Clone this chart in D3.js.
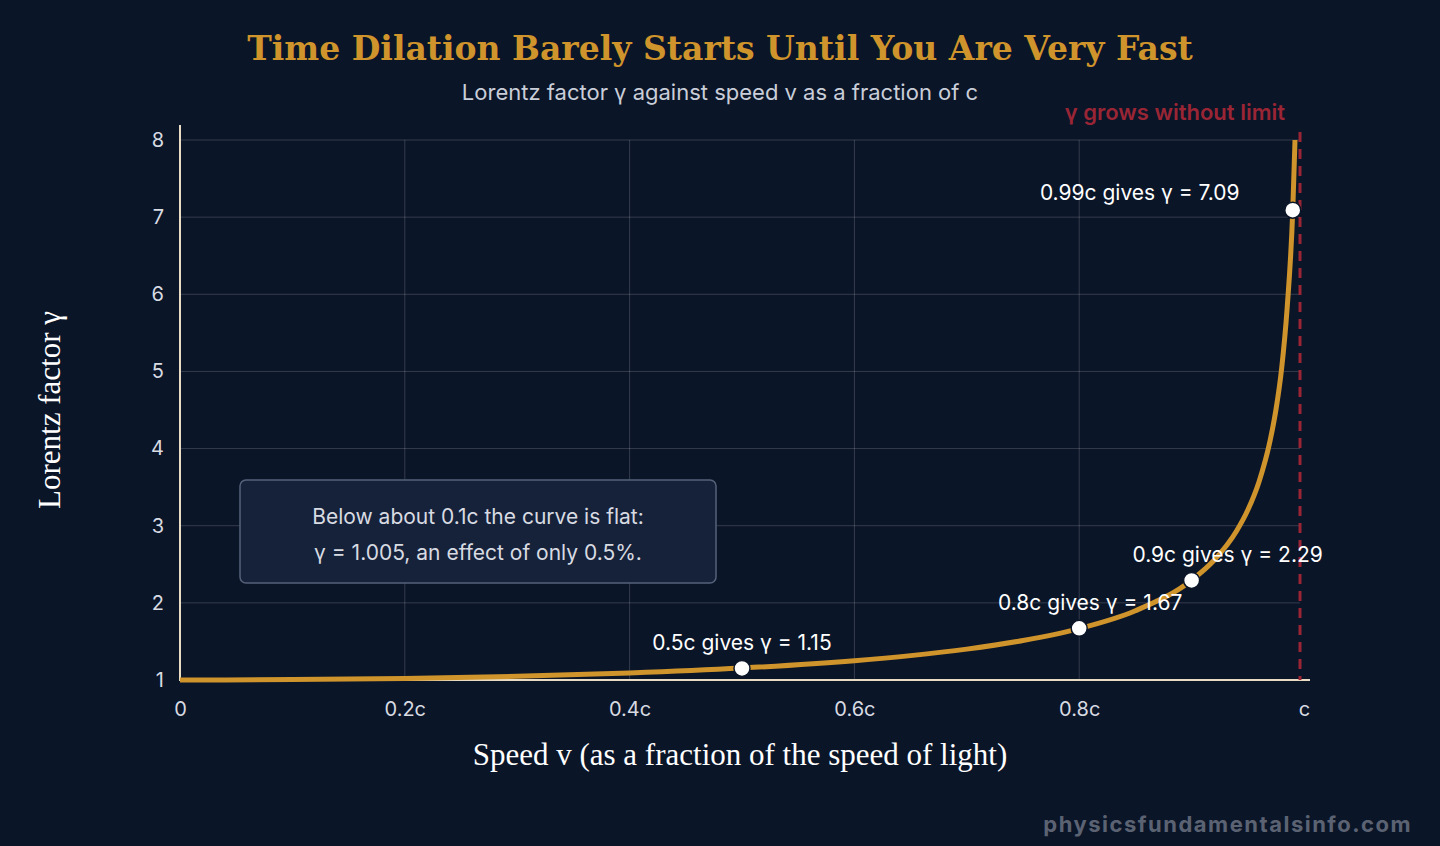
<!DOCTYPE html>
<html lang="en">
<head>
<meta charset="UTF-8" />
<script src="https://cdn.jsdelivr.net/npm/d3@7"></script>
<style>
  html, body { margin: 0; background: #0b1528; }
  text { font-family: Inter, "Noto Sans", sans-serif; }
  .grid line { stroke: #ffffff; stroke-opacity: 0.17; }
  .axis path, .axis line { display: none; }
  .axis text { fill: #d8dbe2; font-size: 20px; }
</style>
</head>
<body>
<svg id="chart" width="1440" height="846"></svg>
<script>
  // speed as fraction of c, and the Lorentz factor
  const speeds = [0, 0.1, 0.2, 0.3, 0.4, 0.5, 0.6, 0.65, 0.7, 0.75, 0.8, 0.85, 0.9, 0.92, 0.94, 0.95, 0.96, 0.97, 0.975, 0.98, 0.985, 0.99, 0.992];
  const gammas = [1, 1.005, 1.021, 1.048, 1.091, 1.155, 1.25, 1.316, 1.4, 1.512, 1.667, 1.898, 2.294, 2.552, 2.931, 3.203, 3.571, 4.113, 4.5, 5.025, 5.82, 7.089, 8.0];
  const markerSpeeds = [0.5, 0.8, 0.9, 0.99];
  const markerGammas = [1.15, 1.67, 2.29, 7.09];
  const markerLabels = ['0.5c gives γ = 1.15', '0.8c gives γ = 1.67', '0.9c gives γ = 2.29', '0.99c gives γ = 7.09'];
  const xTicks = [0, 0.2, 0.4, 0.6, 0.8, 1];
  const xTickLabels = ['0', '0.2c', '0.4c', '0.6c', '0.8c', 'c'];
  const yTicks = [1, 2, 3, 4, 5, 6, 7, 8];

  const svg = d3.select('#chart');
  const x = d3.scaleLinear().domain([0, 1]).range([180, 1304]);
  const y = d3.scaleLinear().domain([1, 8]).range([680, 140]);

  svg.append('rect').attr('width', 1440).attr('height', 846).attr('fill', '#0b1528');

  // grid
  const grid = svg.append('g').attr('class', 'grid');
  grid.selectAll('.h').data(yTicks.slice(1)).enter().append('line')
    .attr('x1', 180).attr('x2', 1300).attr('y1', d => y(d)).attr('y2', d => y(d));
  grid.selectAll('.v').data(xTicks.slice(1, -1)).enter().append('line')
    .attr('y1', 140).attr('y2', 680).attr('x1', d => x(d)).attr('x2', d => x(d));

  // axes
  svg.append('g').attr('class', 'axis').attr('transform', 'translate(0,680)')
    .call(d3.axisBottom(x).tickValues(xTicks).tickFormat((d, i) => xTickLabels[i]).tickSize(0).tickPadding(22));
  svg.append('g').attr('class', 'axis').attr('transform', 'translate(180,0)')
    .call(d3.axisLeft(y).tickValues(yTicks).tickFormat(d3.format('d')).tickSize(0).tickPadding(16));
  svg.append('line').attr('x1', 180).attr('x2', 180).attr('y1', 125).attr('y2', 680)
    .attr('stroke', '#e8dcc4').attr('stroke-width', 2);
  svg.append('line').attr('x1', 179).attr('x2', 1310).attr('y1', 680).attr('y2', 680)
    .attr('stroke', '#e8dcc4').attr('stroke-width', 2);

  // asymptote
  svg.append('line').attr('x1', 1300).attr('x2', 1300).attr('y1', 132).attr('y2', 680)
    .attr('stroke', '#9a2535').attr('stroke-width', 3).attr('stroke-dasharray', '10,7');
  svg.append('text').attr('x', 1285).attr('y', 120).attr('text-anchor', 'end')
    .attr('fill', '#9a2535').attr('font-size', 22).attr('font-weight', 600).text('γ grows without limit');

  // curve
  const pts = speeds.map((s, i) => [s, gammas[i]]);
  svg.append('path').datum(pts)
    .attr('d', d3.line().x(d => x(d[0])).y(d => y(d[1])).curve(d3.curveMonotoneX))
    .attr('fill', 'none').attr('stroke', '#cf942b').attr('stroke-width', 5);

  // markers
  const mk = svg.append('g');
  markerSpeeds.forEach((s, i) => {
    mk.append('circle').attr('cx', x(s)).attr('cy', y(markerGammas[i])).attr('r', 8)
      .attr('fill', '#ffffff').attr('stroke', '#0b1528').attr('stroke-width', 1.5);
    mk.append('text').attr('x', x(s) - (i === 3 ? 153 : i === 2 ? -36 : i === 1 ? -11 : 0))
      .attr('y', y(markerGammas[i]) - (i === 3 ? 10 : 18))
      .attr('text-anchor', 'middle').attr('fill', '#ffffff').attr('font-size', 21).text(markerLabels[i]);
  });

  // note box
  svg.append('rect').attr('x', 240).attr('y', 480).attr('width', 476).attr('height', 103).attr('rx', 6)
    .attr('fill', '#16223a').attr('stroke', '#56627a').attr('stroke-width', 1.5);
  svg.append('text').attr('x', 478).attr('y', 524).attr('text-anchor', 'middle').attr('fill', '#d8dbe2')
    .attr('font-size', 21).text('Below about 0.1c the curve is flat:');
  svg.append('text').attr('x', 478).attr('y', 560).attr('text-anchor', 'middle').attr('fill', '#d8dbe2')
    .attr('font-size', 21).text('γ = 1.005, an effect of only 0.5%.');

  // titles
  svg.append('text').attr('x', 720).attr('y', 60).attr('text-anchor', 'middle')
    .style('font-family', '"DejaVu Serif", serif').attr('font-weight', 'bold').attr('font-size', 33)
    .attr('fill', '#cf942b').text('Time Dilation Barely Starts Until You Are Very Fast');
  svg.append('text').attr('x', 720).attr('y', 100).attr('text-anchor', 'middle')
    .attr('fill', '#c9ced8').attr('font-size', 22).text('Lorentz factor γ against speed v as a fraction of c');
  svg.append('text').attr('x', 740).attr('y', 765).attr('text-anchor', 'middle')
    .style('font-family', '"Liberation Serif", serif').attr('font-size', 31).attr('fill', '#ffffff')
    .text('Speed v (as a fraction of the speed of light)');
  svg.append('text').attr('transform', 'translate(60,410) rotate(-90)').attr('text-anchor', 'middle')
    .style('font-family', '"Liberation Serif", serif').attr('font-size', 31).attr('fill', '#ffffff')
    .text('Lorentz factor γ');

  svg.append('text').attr('x', 1412).attr('y', 832).attr('text-anchor', 'end')
    .attr('fill', '#5b6373').attr('font-size', 22).attr('font-weight', 700).attr('letter-spacing', 1.5)
    .text('physicsfundamentalsinfo.com');
</script>
</body>
</html>
